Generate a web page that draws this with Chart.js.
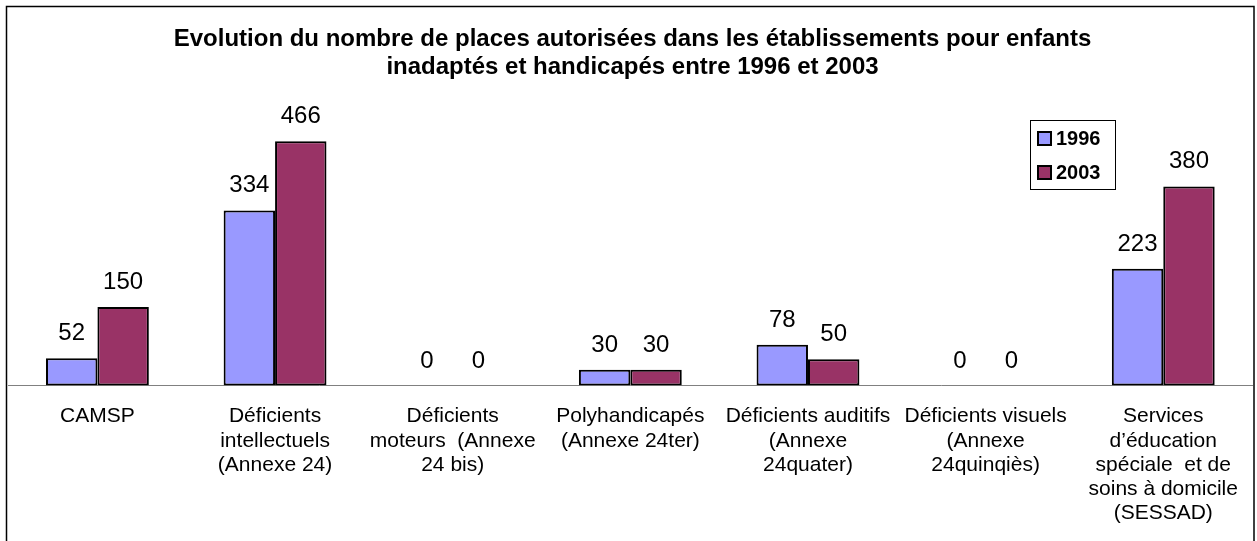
<!DOCTYPE html>
<html>
<head>
<meta charset="utf-8">
<script src="https://cdn.jsdelivr.net/npm/chart.js@4/dist/chart.umd.min.js"></script>
<style>
html,body{margin:0;padding:0;background:#fff;}
#wrap{width:1257px;height:541px;position:relative;}
</style>
</head>
<body>
<div id="wrap"><canvas id="c"></canvas></div>
<script>
const titleLines = ["Evolution du nombre de places autorisées dans les établissements pour enfants",
                    "inadaptés et handicapés entre 1996 et 2003"];
const categories = [
  ["CAMSP"],
  ["Déficients", "intellectuels", "(Annexe 24)"],
  ["Déficients", "moteurs  (Annexe", "24 bis)"],
  ["Polyhandicapés", "(Annexe 24ter)"],
  ["Déficients auditifs", "(Annexe", "24quater)"],
  ["Déficients visuels", "(Annexe", "24quinqiès)"],
  ["Services", "d’éducation", "spéciale  et de", "soins à domicile", "(SESSAD)"]
];
const seriesNames = ["1996", "2003"];
const values1996 = [52, 334, 0, 30, 78, 0, 223];
const values2003 = [150, 466, 0, 30, 50, 0, 380];
const colors = ["#9999FF", "#993366"];

const FONT = "'Liberation Sans', Arial, Helvetica, sans-serif";

const framePlugin = {
  id: 'frame',
  beforeDraw(chart) {
    const ctx = chart.ctx;
    ctx.save();
    ctx.fillStyle = '#fff';
    ctx.fillRect(0, 0, chart.width, chart.height);
    ctx.strokeStyle = '#000';
    ctx.lineWidth = 1.5;
    ctx.strokeRect(6.5, 6.5, 1247.5, 600);
    ctx.restore();
  }
};

const labelPlugin = {
  id: 'valueLabels',
  afterDatasetsDraw(chart) {
    const ctx = chart.ctx;
    ctx.save();
    ctx.font = "24px " + FONT;
    ctx.fillStyle = '#000';
    ctx.textAlign = 'center';
    ctx.textBaseline = 'alphabetic';
    chart.data.datasets.forEach((ds, i) => {
      const meta = chart.getDatasetMeta(i);
      meta.data.forEach((bar, j) => {
        ctx.fillText(String(ds.data[j]), bar.x, bar.y - 18);
      });
    });
    ctx.restore();
  }
};

const legendPlugin = {
  id: 'boxLegend',
  afterDraw(chart) {
    const ctx = chart.ctx;
    ctx.save();
    ctx.fillStyle = '#fff';
    ctx.fillRect(1030, 120, 85, 69);
    ctx.strokeStyle = '#000';
    ctx.lineWidth = 1;
    ctx.strokeRect(1030.5, 120.5, 85, 69);
    ctx.font = "bold 20px " + FONT;
    ctx.textBaseline = 'middle';
    ctx.textAlign = 'left';
    chart.data.datasets.forEach((ds, i) => {
      const y = 132 + i * 34;
      ctx.fillStyle = ds.backgroundColor;
      ctx.fillRect(1038, y, 13, 13);
      ctx.lineWidth = 2;
      ctx.strokeStyle = '#000';
      ctx.strokeRect(1038, y, 13, 13);
      ctx.fillStyle = '#000';
      ctx.fillText(ds.label, 1056, y + 7.5);
    });
    ctx.restore();
  }
};

new Chart(document.getElementById('c'), {
  type: 'bar',
  data: {
    labels: categories,
    datasets: [
      { label: seriesNames[0], data: values1996, backgroundColor: colors[0], borderColor: '#000', borderWidth: 2, borderSkipped: false },
      { label: seriesNames[1], data: values2003, backgroundColor: colors[1], borderColor: '#000', borderWidth: 2, borderSkipped: false }
    ]
  },
  options: {
    responsive: true,
    maintainAspectRatio: false,
    animation: false,
    events: [],
    layout: { padding: { left: 8.6, right: 0.6, top: 0, bottom: 0 } },
    datasets: { bar: { categoryPercentage: 0.579, barPercentage: 1.0 } },
    plugins: {
      legend: { display: false },
      tooltip: { enabled: false },
      title: {
        display: true,
        text: titleLines,
        color: '#000',
        font: { family: FONT, size: 24, weight: 'bold', lineHeight: 28 / 24 },
        padding: { top: 25, bottom: 42.5 }
      }
    },
    scales: {
      x: {
        grid: { display: false, drawTicks: false },
        border: { display: true, color: '#808080', width: 1 },
        ticks: {
          color: '#000',
          padding: 19,
          maxRotation: 0,
          autoSkip: false,
          font: { family: FONT, size: 21, lineHeight: 1.15 }
        },
        afterFit(scale) { scale.height = 155.5; }
      },
      y: {
        display: false,
        min: 0,
        max: 500
      }
    }
  },
  plugins: [framePlugin, labelPlugin, legendPlugin]
});
</script>
</body>
</html>
